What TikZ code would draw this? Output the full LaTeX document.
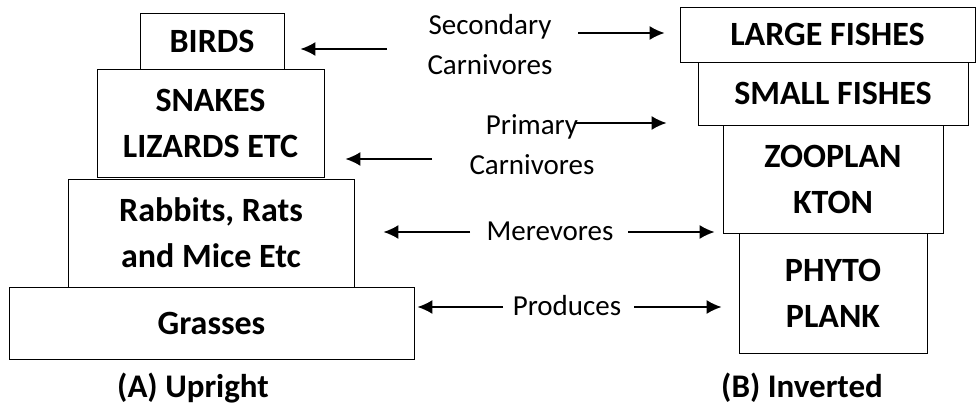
\documentclass[tikz,border=0pt]{standalone}
\usepackage{fontspec}
\setmainfont{Carlito}
\usetikzlibrary{arrows.meta}

\begin{document}
\begin{tikzpicture}[x=1pt,y=-1pt,
  level/.style={draw,line width=0.9pt,align=center,inner sep=0pt,font=\bfseries\fontsize{34}{46}\selectfont},
  tag/.style={align=center,inner sep=0pt,font=\fontsize{29}{40}\selectfont},
  caption/.style={inner sep=0pt,anchor=base,font=\bfseries\fontsize{33}{40}\selectfont},
  arr/.style={-{Latex[length=15pt,width=14pt]},line width=1.6pt}]
\useasboundingbox (0,0) rectangle (976,409);

\node[level,minimum width=405pt,minimum height=72pt] (grass) at (211.5,323) {Grasses};
\node[level,minimum width=286pt,minimum height=108pt] (rabbit) at (211,233) {Rabbits, Rats\\and Mice Etc};
\node[level,minimum width=227pt,minimum height=108pt] (snake) at (210.5,123) {SNAKES\\LIZARDS ETC};
\node[level,minimum width=144pt,minimum height=56pt] (bird) at (212,41) {BIRDS};

\node[level,minimum width=188pt,minimum height=120pt] (phyto) at (833,293) {PHYTO\\PLANK};
\node[level,minimum width=220pt,minimum height=108pt] (zoo) at (833,179) {ZOOPLAN\\KTON};
\node[level,minimum width=270pt,minimum height=63pt] (small) at (833,93.5) {SMALL FISHES};
\node[level,minimum width=295pt,minimum height=55pt] (large) at (827.5,34.5) {LARGE FISHES};

\node[tag] (sec) at (490,45) {Secondary\\Carnivores};
\node[tag] (pri) at (532,145) {Primary\\Carnivores};
\node[tag,anchor=base] (mere) at (550,240) {Merevores};
\node[tag,anchor=base] (prod) at (567,315) {Produces};

\node[caption] (upright) at (193,397) {(A) Upright};
\node[caption] (inverted) at (802,397) {(B) Inverted};

\coordinate (t1) at (387,49);
\coordinate (t2) at (578,33);
\coordinate (t3) at (575,123);
\coordinate (t4) at (432,159);
\coordinate (t5) at (470,232);
\coordinate (t6) at (628,232);
\coordinate (t7) at (503,307);
\coordinate (t8) at (634,307);

\draw[arr,shorten >=16pt] (t1) -- (t1 -| bird.east);
\draw[arr,shorten >=15pt] (t2) -- (t2 -| large.west);
\draw[arr,shorten >=31pt] (t3) -- (t3 -| small.west);
\draw[arr,shorten >=21pt] (t4) -- (t4 -| snake.east);
\draw[arr,shorten >=29pt] (t5) -- (t5 -| rabbit.east);
\draw[arr,shorten >=8pt] (t6) -- (t6 -| zoo.west);
\draw[arr,shorten >=3pt] (t7) -- (t7 -| grass.east);
\draw[arr,shorten >=17pt] (t8) -- (t8 -| phyto.west);
\end{tikzpicture}
\end{document}
